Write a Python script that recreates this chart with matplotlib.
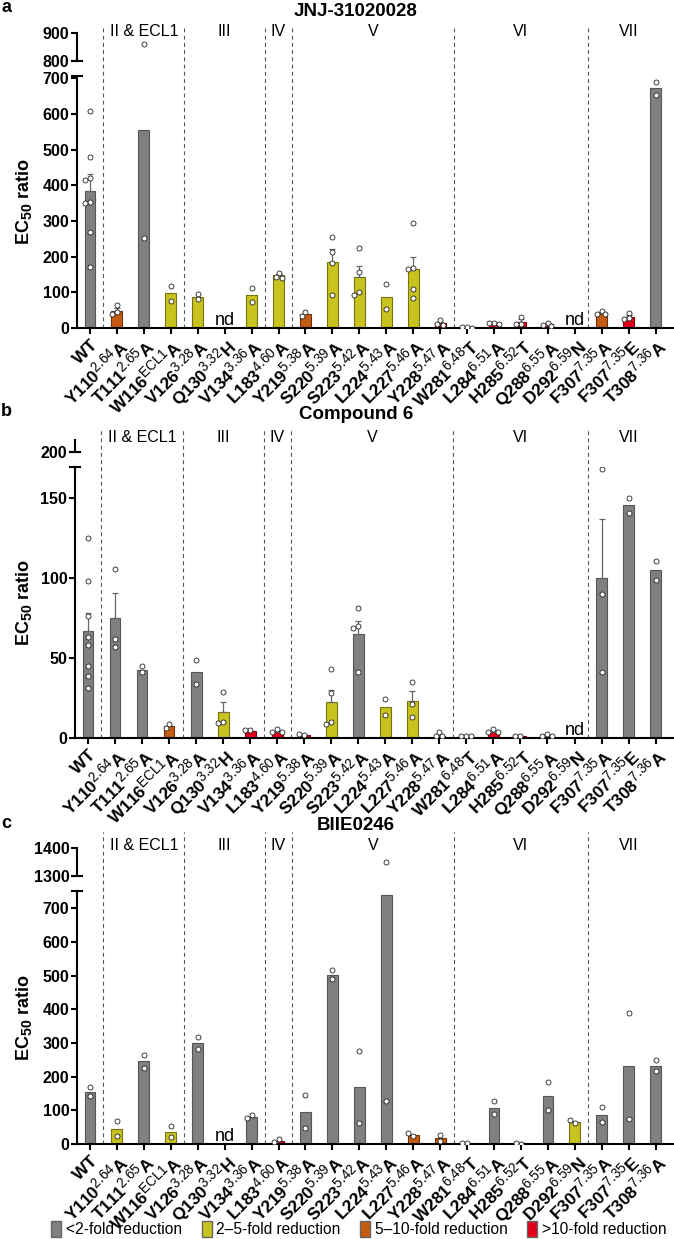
import numpy as np
import matplotlib.pyplot as plt
from matplotlib.patches import Patch
from matplotlib import transforms
import matplotlib._mathtext as mathtext_internal

plt.rcParams['font.family'] = ['Liberation Sans', 'DejaVu Sans']
plt.rcParams['mathtext.fontset'] = 'custom'
plt.rcParams['mathtext.rm'] = 'Liberation Sans'
plt.rcParams['mathtext.bf'] = 'Liberation Sans:bold'
plt.rcParams['mathtext.it'] = 'Liberation Sans:italic'
plt.rcParams['axes.linewidth'] = 1.5
# slightly larger superscripts, as in the original figure
if hasattr(mathtext_internal, 'SHRINK_FACTOR'):
    mathtext_internal.SHRINK_FACTOR = 0.78

nan = np.nan

# mutants on the x axis
residues = ['WT', 'Y110', 'T111', 'W116', 'V126', 'Q130', 'V134', 'L183', 'Y219', 'S220', 'S223',
            'L224', 'L227', 'Y228', 'W281', 'L284', 'H285', 'Q288', 'D292', 'F307', 'F307', 'T308']
bw_numbers = ['', '2.64', '2.65', 'ECL1', '3.28', '3.32', '3.36', '4.60', '5.38', '5.39', '5.42',
              '5.43', '5.46', '5.47', '6.48', '6.51', '6.52', '6.55', '6.59', '7.35', '7.35', '7.36']
mutations = ['', 'A', 'A', 'A', 'A', 'H', 'A', 'A', 'A', 'A', 'A',
             'A', 'A', 'A', 'T', 'A', 'T', 'A', 'N', 'A', 'E', 'A']

regions = ['II & ECL1', 'III', 'IV', 'V', 'VI', 'VII']
region_members = [(1, 3), (4, 6), (7, 7), (8, 13), (14, 18), (19, 21)]

class_labels = ['<2-fold reduction', '2\u20135-fold reduction', '5\u201310-fold reduction', '>10-fold reduction']

# a: JNJ-31020028
jnj_mean = [383, 49, 556, 97, 88, nan, 93, 148, 40, 186, 143, 88, 164, 14, 2, 12, 18, 10, nan, 42, 32, 671]
jnj_sem = [48, 8, 0, 0, 0, 0, 0, 4, 0, 35, 30, 0, 36, 4, 0.5, 1.5, 6, 3, 0, 3, 5, 0]
jnj_class = [0, 2, 0, 1, 1, -1, 1, 1, 2, 1, 1, 1, 1, 3, 3, 3, 3, 3, -1, 2, 3, 0]
jnj_points = [[608, 479, 420, 415, 353, 350, 269, 171], [65, 45, 38], [861, 252], [118, 76], [95, 81], [],
              [112, 73], [154, 143, 140], [45, 34], [255, 213, 182, 92], [224, 157, 101, 92], [123, 53],
              [294, 168, 165, 109, 84], [22, 12, 9], [3, 2, 1], [15, 14, 10], [31, 12, 11], [15, 9, 5], [],
              [48, 40, 38], [42, 28, 25], [689, 653]]

# b: Compound 6
cmp6_mean = [67, 75, 42.5, 7.5, 41, 16, 4.5, 4, 2, 22.5, 65, 19.5, 23, 1.5, 1, 4, 1, 1.5, nan, 100, 146, 105]
cmp6_sem = [11, 15.5, 0, 0, 0, 6.5, 0, 0.6, 0, 7.8, 8, 0, 6.5, 0.8, 0, 0.7, 0, 0.4, 0, 37, 0, 0]
cmp6_class = [0, 0, 0, 2, 0, 1, 3, 3, 3, 1, 0, 1, 1, 3, 3, 3, 3, 3, -1, 0, 0, 0]
cmp6_points = [[125, 98, 76, 63, 58, 45, 39, 31], [106, 62, 57], [45, 41], [9, 6.5], [49, 34], [29, 10, 9.5],
               [5, 5], [5.5, 4, 3.5], [2, 2.5], [43, 28, 10, 9], [81, 70, 68.5, 41], [24.5, 14.5],
               [35, 21, 13], [3.5, 1, 1], [1, 1, 1], [5.5, 4, 3.5], [1, 1.5], [2.5, 1.5, 1], [],
               [168, 90, 41], [150, 141], [111, 99]]

# c: BIIE0246
biie_mean = [155, 46, 245, 37, 300, nan, 80, 8, 95, 503, 169, 739, 28, 18, 2, 108, 2, 142, 66, 87, 232, 233]
biie_class = [0, 1, 0, 1, 0, -1, 0, 3, 0, 0, 0, 0, 2, 2, 3, 0, 3, 0, 1, 0, 0, 0]
biie_points = [[168, 141], [68, 24], [264, 227], [53, 20], [318, 282], [], [85, 76], [14, 5], [144, 47],
               [516, 490], [276, 62], [1350, 128], [24, 32], [27, 9], [2, 3], [128, 88], [1, 3], [185, 100],
               [62, 71], [110, 65], [389, 74], [248, 218]]

face = ['#808080', '#c8c31f', '#c55a11', '#e2001a']
edge = ['#555555', '#77740f', '#6e320a', '#80000f']

W, H = 674, 1239
fig = plt.figure(figsize=(W / 100, H / 100), dpi=100)


def add_ax(x0, x1, ytop, ybot):
    return fig.add_axes([x0 / W, 1 - ybot / H, (x1 - x0) / W, (ybot - ytop) / H])


xlabels = []
for r, n, m in zip(residues, bw_numbers, mutations):
    if n == '':
        xlabels.append(r'$\mathbf{%s}$' % r)
    else:
        xlabels.append(r'$\mathbf{%s}^{\mathrm{%s}}\mathbf{%s}$' % (r, n, m))

panels = [
    dict(mean=jnj_mean, sem=jnj_sem, cls=jnj_class, pts=jnj_points, title='JNJ-31020028', letter='a',
         x0=77, low=(76, 328), top=(33, 61), low_lim=(0, 706), top_lim=(800, 900),
         low_ticks=range(0, 701, 100), top_ticks=[800, 900], letter_y=8, title_y=12, region_y=31, dash_y=25),
    dict(mean=cmp6_mean, sem=cmp6_sem, cls=cmp6_class, pts=cmp6_points, title='Compound 6', letter='b',
         x0=75, low=(467, 738), top=(440, 452), low_lim=(0, 169.5), top_lim=(200, 207.5),
         low_ticks=[0, 50, 100, 150], top_ticks=[200], letter_y=412, title_y=415, region_y=437, dash_y=430),
    dict(mean=biie_mean, sem=None, cls=biie_class, pts=biie_points, title='BIIE0246', letter='c',
         x0=77, low=(891, 1144), top=(848, 876), low_lim=(0, 751), top_lim=(1300, 1400),
         low_ticks=range(0, 701, 100), top_ticks=[1300, 1400], letter_y=824, title_y=825, region_y=846, dash_y=832),
]

xlim = (-0.48, 21.68)
x = np.arange(len(residues))

for p in panels:
    ax = add_ax(p['x0'], W, p['low'][0], p['low'][1])
    axt = add_ax(p['x0'], W, p['top'][0], p['top'][1])
    axt.set_facecolor('none')
    w_px = W - p['x0']
    h_px = p['low'][1] - p['low'][0]
    ppu = h_px / (p['low_lim'][1] - p['low_lim'][0])
    ppx = w_px / (xlim[1] - xlim[0])

    mean = np.array(p['mean'], dtype=float)
    cls = p['cls']
    colors = [face[c] if c >= 0 else 'none' for c in cls]
    ecolors = [edge[c] if c >= 0 else 'none' for c in cls]
    for a in (ax, axt):
        a.bar(x, np.nan_to_num(mean), width=0.4, color=colors, edgecolor=ecolors, linewidth=0.8, zorder=2)
        if p['sem'] is not None:
            sem = np.array(p['sem'], dtype=float)
            m = sem > 0
            a.errorbar(x[m], mean[m], yerr=[np.zeros(m.sum()), sem[m]], fmt='none', ecolor='#666666',
                       elinewidth=0.9, capsize=2.5, capthick=0.9, zorder=3)
        # points, spread sideways where they overlap
        for i, vals in enumerate(p['pts']):
            placed = []
            xs = []
            d = 5.0
            for v in vals:
                y = v * ppu
                for cand in [0, -d * 0.6, d * 0.6, -d, d, -1.6 * d, 1.6 * d]:
                    if all((cand - px) ** 2 + (y - py) ** 2 >= (d * 0.9) ** 2 for px, py in placed):
                        break
                placed.append((cand, y))
                xs.append(i + cand / ppx)
            a.scatter(xs, vals, s=13, facecolor='white', edgecolor='#222222', linewidth=0.6, zorder=4)
        a.set_xlim(*xlim)

    ax.set_ylim(*p['low_lim'])
    axt.set_ylim(*p['top_lim'])
    for s in ('top', 'right'):
        ax.spines[s].set_visible(False)
    for s in ('top', 'right', 'bottom'):
        axt.spines[s].set_visible(False)
    ax.set_yticks(list(p['low_ticks']), labels=[str(t) for t in p['low_ticks']], fontweight='bold', fontsize=11.5)
    axt.set_yticks(p['top_ticks'], labels=[str(t) for t in p['top_ticks']], fontweight='bold', fontsize=11.5)
    axt.set_xticks([])
    ax.set_xticks(x, labels=xlabels, rotation=45, ha='right', va='top', rotation_mode='anchor', fontsize=12.5)
    for a in (ax, axt):
        a.tick_params(axis='y', length=4, width=1.5, pad=1.5)
    ax.tick_params(axis='x', length=4, width=1.5, pad=1.5)

    # axis break marks
    hw = 5 / w_px
    ax.plot([-hw, hw], [1, 1], transform=ax.transAxes, clip_on=False, color='k', lw=1.5)
    axt.plot([-hw, hw], [0, 0], transform=axt.transAxes, clip_on=False, color='k', lw=1.5)

    ax.set_ylabel(r'$\mathbf{EC}_{\mathbf{50}}$ ratio', fontweight='bold', fontsize=13)
    ax.yaxis.set_label_coords((34 - p['x0']) / w_px, 0.5)

    # dashed region separators and names
    ymax = (p['low'][1] - p['dash_y']) / h_px
    tr = transforms.blended_transform_factory(ax.transData, fig.transFigure)
    for name, (s, e) in zip(regions, region_members):
        ax.axvline(s - 0.5, ymin=0, ymax=ymax, clip_on=False, color='#555555', lw=0.8,
                   dashes=(3.5, 3), zorder=1)
        fig.text((s + e) / 2, 1 - p['region_y'] / H, name, transform=tr, ha='center', va='center', fontsize=11.5)

    # not determined
    off = transforms.offset_copy(ax.transData, fig=fig, y=3, units='dots')
    for i in range(len(mean)):
        if np.isnan(mean[i]):
            ax.text(i, 0, 'nd', transform=off, ha='center', va='baseline', fontsize=13)

    fig.text(356 / W, 1 - p['title_y'] / H, p['title'], ha='center', va='center', fontsize=13.5, fontweight='bold')
    fig.text(1 / W, 1 - p['letter_y'] / H, p['letter'], ha='left', va='center', fontsize=13, fontweight='bold')

handles = [Patch(facecolor=face[k], edgecolor='#666666', linewidth=1) for k in range(4)]
fig.legend(handles, class_labels, loc='center', bbox_to_anchor=(359 / W, 1 - 1229 / H), ncol=4, frameon=False,
           fontsize=11.2, handlelength=0.65, handleheight=1.25, handletextpad=0.3, columnspacing=1.25,
           borderaxespad=0, borderpad=0)

fig.savefig('out.png', dpi=100)
